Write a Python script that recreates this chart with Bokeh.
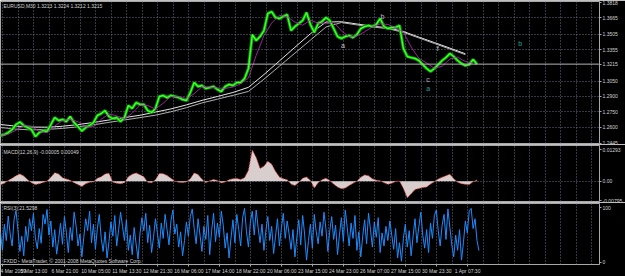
from bokeh.plotting import figure
from bokeh.layouts import column
from bokeh.models import Range1d, FixedTicker, Grid, Span, Label, ColumnDataSource
from bokeh.embed import file_html
from bokeh.resources import INLINE
from bokeh.core.properties import value

# ---------------- data ----------------
# time axis: hours from 4 Mar 2009 label position
time_tick_hours = [0, 32, 64, 96, 128, 160, 192, 224, 256, 288, 320, 352, 384, 416, 448, 480]
time_labels = ["4 Mar 2009", "5 Mar 13:00", "6 Mar 21:00", "10 Mar 05:00", "11 Mar 13:30",
               "12 Mar 21:30", "16 Mar 06:00", "17 Mar 14:00", "18 Mar 22:00", "20 Mar 06:00",
               "23 Mar 15:00", "24 Mar 23:00", "26 Mar 07:00", "27 Mar 15:00", "30 Mar 23:30",
               "1 Apr 07:30"]
grid_hours = [0, 16, 32, 48, 64, 80, 96, 112, 128, 144, 160, 176, 192, 208, 224, 240, 256,
              272, 288, 304, 320, 336, 352, 368, 384, 400, 416, 432, 448, 464, 480, 496,
              512, 528, 544, 560, 576, 592, 608]
X_START, X_END = -2.5, 616.0

# EURUSD M30 closes, one value every 4 hours
price = [
    1.2520, 1.2529, 1.2549, 1.2578, 1.2627, 1.2651, 1.2617, 1.2598, 1.2578, 1.2510,
    1.2549, 1.2568, 1.2559, 1.2627, 1.2695, 1.2666, 1.2676, 1.2656, 1.2705, 1.2646,
    1.2607, 1.2564, 1.2598, 1.2617, 1.2646, 1.2715, 1.2734, 1.2763, 1.2705, 1.2685,
    1.2695, 1.2656, 1.2695, 1.2812, 1.2783, 1.2841, 1.2822, 1.2822, 1.2763, 1.2744,
    1.2783, 1.2900, 1.2909, 1.2890, 1.2909, 1.2900, 1.2890, 1.2870, 1.2861, 1.2939,
    1.3036, 1.2997, 1.3007, 1.2978, 1.2987, 1.2997, 1.2968, 1.2948, 1.2997, 1.3017,
    1.3007, 1.3036, 1.3036, 1.3075, 1.3172, 1.3503, 1.3445, 1.3484, 1.3542, 1.3708,
    1.3727, 1.3669, 1.3659, 1.3679, 1.3698, 1.3542, 1.3581, 1.3611, 1.3640, 1.3718,
    1.3601, 1.3523, 1.3611, 1.3630, 1.3669, 1.3640, 1.3562, 1.3484, 1.3465, 1.3484,
    1.3494, 1.3474, 1.3503, 1.3562, 1.3581, 1.3591, 1.3581, 1.3601, 1.3659, 1.3581,
    1.3562, 1.3572, 1.3572, 1.3591, 1.3367, 1.3289, 1.3279, 1.3270, 1.3250, 1.3211,
    1.3172, 1.3143, 1.3172, 1.3211, 1.3250, 1.3279, 1.3318, 1.3289, 1.3250, 1.3221,
    1.3201, 1.3211, 1.3260, 1.3215]
PRICE_STEP = 4

# moving average (magenta), one value every 8 hours
ma = [
    1.2520, 1.2533, 1.2571, 1.2618, 1.2611, 1.2559, 1.2547, 1.2612, 1.2666, 1.2676,
    1.2654, 1.2604, 1.2606, 1.2678, 1.2729, 1.2712, 1.2683, 1.2737, 1.2815, 1.2812,
    1.2778, 1.2834, 1.2902, 1.2897, 1.2880, 1.2927, 1.2995, 1.2992, 1.2983, 1.2978,
    1.2992, 1.3024, 1.3080, 1.3299, 1.3494, 1.3615, 1.3691, 1.3676, 1.3625, 1.3594,
    1.3643, 1.3613, 1.3608, 1.3625, 1.3538, 1.3482, 1.3489, 1.3530, 1.3579, 1.3608,
    1.3601, 1.3572, 1.3526, 1.3382, 1.3272, 1.3226, 1.3175, 1.3194, 1.3265, 1.3284,
    1.3240, 1.3223]
MA_STEP = 8

# two long averages (white), one value every 16 hours
long_a = [
    1.2627, 1.2611, 1.2602, 1.2601, 1.2610, 1.2626, 1.2647, 1.2671, 1.2694, 1.2717,
    1.2748, 1.2779, 1.2818, 1.2862, 1.2900, 1.2939, 1.2989, 1.3113, 1.3246, 1.3379,
    1.3511, 1.3625, 1.3628, 1.3606, 1.3585, 1.3569, 1.3533, 1.3478, 1.3425, 1.3371,
    1.3316]
long_b = [
    1.2598, 1.2582, 1.2574, 1.2580, 1.2589, 1.2605, 1.2624, 1.2648, 1.2671, 1.2694,
    1.2718, 1.2751, 1.2791, 1.2837, 1.2874, 1.2911, 1.2949, 1.3068, 1.3195, 1.3322,
    1.3449, 1.3576, 1.3620, 1.3597, 1.3577, 1.3560, 1.3524, 1.3470, 1.3416, 1.3362,
    1.3307]
LONG_STEP = 16

# MACD(12,26,9) histogram, one value every 4 hours
macd = [
    -0.0015, -0.0008, 0.0003, 0.0012, 0.0022, 0.0030, 0.0021, 0.0006, -0.0006, -0.0014,
    -0.0010, -0.0005, 0.0000, 0.0016, 0.0035, 0.0030, 0.0014, 0.0009, 0.0004, -0.0006,
    -0.0014, -0.0022, -0.0010, -0.0004, -0.0003, 0.0012, 0.0018, 0.0030, 0.0033, -0.0004,
    -0.0008, -0.0010, -0.0006, 0.0018, 0.0029, 0.0034, 0.0027, 0.0018, -0.0004, -0.0006,
    0.0006, 0.0032, 0.0031, 0.0023, 0.0012, 0.0000, -0.0004, -0.0005, -0.0003, 0.0010,
    0.0034, 0.0028, 0.0008, -0.0006, 0.0002, 0.0007, 0.0003, -0.0007, -0.0003, 0.0006,
    0.0010, 0.0011, 0.0007, 0.0014, 0.0045, 0.0128, 0.0098, 0.0052, 0.0062, 0.0082,
    0.0070, 0.0040, 0.0017, 0.0010, 0.0006, -0.0012, -0.0018, -0.0004, 0.0012, 0.0017,
    0.0003, -0.0028, -0.0006, 0.0006, 0.0012, 0.0003, -0.0012, -0.0024, -0.0031, -0.0028,
    -0.0018, -0.0008, 0.0000, 0.0016, 0.0026, 0.0022, 0.0010, 0.0004, 0.0002, -0.0006,
    -0.0013, -0.0008, -0.0001, 0.0001, -0.0030, -0.0068, -0.0052, -0.0034, -0.0030, -0.0026,
    -0.0024, -0.0012, -0.0002, 0.0009, 0.0016, 0.0022, 0.0029, 0.0010, -0.0004, -0.0010,
    -0.0013, -0.0014, -0.0002, 0.0005]
MACD_STEP = 4

# RSI, one value every 2 hours
rsi = [
    55, 22, 70, 40, 85, 52, 30, 78, 95, 60, 20, 48, 12, 66, 38, 80, 58, 90, 45, 25, 62, 35, 88, 70, 97,
    50, 76, 28, 60, 15, 42, 72, 33, 84, 55, 18, 64, 40, 92, 68, 30, 52, 10, 46, 80, 58, 94, 36, 70, 24,
    62, 88, 44, 20, 56, 8, 38, 74, 48, 86, 30, 60, 92, 66, 40, 78, 22, 50, 14, 64, 34, 6, 52, 82, 58,
    90, 36, 68, 18, 46, 80, 54, 26, 72, 44, 88, 60, 32, 76, 96, 52, 70, 28, 56, 12, 40, 74, 48, 84, 98,
    62, 34, 80, 50, 20, 66, 42, 86, 14, 58, 90, 38, 72, 46, 94, 68, 26, 54, 8, 44, 78, 36, 88, 60, 30,
    82, 99, 56, 28, 74, 94, 50, 96, 64, 36, 70, 22, 58, 84, 40, 66, 16, 48, 80, 30, 62, 90, 44, 76, 52,
    24, 60, 10, 46, 78, 32, 86, 52, 4, 40, 70, 26, 88, 56, 34, 74, 48, 92, 62, 20, 58, 84, 42, 68, 14,
    50, 82, 38, 96, 64, 30, 72, 44, 86, 22, 56, 10, 48, 78, 34, 90, 60, 28, 74, 46, 82, 18, 54, 30, 66,
    40, 76, 50, 24, 62, 8, 36, 2, 44, 70, 28, 58, 12, 48, 80, 36, 66, 92, 50, 26, 60, 18, 72, 44, 86,
    96, 58, 30, 68, 88, 42, 98, 64, 32, 10, 50, 22, 60, 4, 36, 76, 54, 94, 99, 62, 80, 40, 21.5]
RSI_STEP = 2

# price scale ticks
price_ticks = [1.3818, 1.3665, 1.3505, 1.3355, 1.3215, 1.3050, 1.2900, 1.2750, 1.2600, 1.2445]
price_tick_labels = ["1.3818", "1.3665", "1.3505", "1.3355", "1.3215", "1.3050", "1.2900",
                     "1.2750", "1.2600", "1.2445"]
price_grid = [1.3665, 1.3505, 1.3355, 1.3050, 1.2900, 1.2750, 1.2600]
current_price = 1.3215
macd_ticks = [0.01293, 0.0, -0.00795]
macd_tick_labels = ["0.01293", "0.00", "-0.00795"]
rsi_ticks = [100, 0]
rsi_tick_labels = ["100", "0"]

# wave labels drawn on the price chart
wave_text = ["a", "b", "f", "c", "a", "b"]
wave_hour = [351, 392, 449, 439, 439, 534]
wave_price = [1.3396, 1.3679, 1.3367, 1.3065, 1.2977, 1.3419]
wave_color = ["#c8c8c8", "#d8a8d0", "#d0d0d0", "#c8a8d8", "#1fa0a0", "#1fa0a0"]

# ---------------- drawing ----------------
FONT = "Liberation Sans"
GRID_C = "#66727f"
FRAME_C = "#a8a8a8"
TXT_C = "#d4d4d4"
FS = "5px"

xr = Range1d(X_START, X_END)


def xs(n, step):
    return [X_START + step * i for i in range(n)]


def panel(height, y0, y1, top, bottom, yticks, ylabels, ygrid, xaxis=False):
    p = figure(width=625, height=height, x_range=xr, y_range=Range1d(y0, y1),
               output_backend="svg", toolbar_location=None,
               x_axis_location="below" if xaxis else None, y_axis_location="right",
               min_border_left=0, min_border_right=22, min_border_top=top,
               min_border_bottom=bottom, background_fill_color="black",
               border_fill_color="black", outline_line_color=FRAME_C, outline_line_width=1)
    p.grid.grid_line_color = None
    p.add_layout(Grid(dimension=0, ticker=FixedTicker(ticks=grid_hours),
                      grid_line_color=GRID_C, grid_line_dash="1 2", grid_line_width=1))
    if ygrid:
        p.add_layout(Grid(dimension=1, ticker=FixedTicker(ticks=ygrid),
                          grid_line_color=GRID_C, grid_line_dash="1 2", grid_line_width=1))
    ax = p.yaxis[0]
    ax.ticker = FixedTicker(ticks=yticks)
    ax.major_label_overrides = dict(zip(yticks, ylabels))
    ax.axis_line_color = None
    ax.major_tick_line_color = FRAME_C
    ax.major_tick_out = 2
    ax.major_tick_in = 0
    ax.minor_tick_out = 0
    ax.minor_tick_in = 0
    ax.major_label_standoff = 1
    ax.major_label_text_color = TXT_C
    ax.major_label_text_font = FONT
    ax.major_label_text_font_size = FS
    return p


# ---- price panel ----
p1 = panel(144, 1.2442, 1.3825, 1, 1, price_ticks, price_tick_labels, price_grid)
p1.add_layout(Span(location=current_price, dimension="width", line_color="#b4b4b4", line_width=1))
p1.line(xs(len(long_a), LONG_STEP), long_a, line_color="#e6e6e6", line_width=1)
p1.line(xs(len(long_b), LONG_STEP), long_b, line_color="#b0b0b0", line_width=1)
px = xs(len(price), PRICE_STEP)
p1.line(px, price, line_color="#009a00", line_width=3.2)
p1.line(px, price, line_color="#44ff2a", line_width=1.4)
p1.line(xs(len(ma), MA_STEP), ma, line_color="#b02cb0", line_width=1, line_alpha=0.85)
wsrc = ColumnDataSource(dict(x=wave_hour, y=wave_price, t=wave_text, c=wave_color))
p1.text(x="x", y="y", text="t", text_color="c", source=wsrc, text_font=value(FONT),
        text_font_size="7px", text_align="center", text_baseline="middle")
p1.add_layout(Label(x=0.5, y=1.3812, text="EURUSD,M30  1.3213 1.3224 1.3212 1.3215",
                    text_color=TXT_C, text_font=FONT, text_font_size=FS, text_baseline="top"))
p1.add_layout(Label(x=X_END, y=current_price, x_offset=1, text="1.3215", text_color="black",
                    background_fill_color="white", text_font=FONT, text_font_size=FS,
                    text_baseline="middle", text_align="left"))

# ---- MACD panel ----
p2 = panel(58, -0.00836, 0.0147, 1, 1, macd_ticks, macd_tick_labels, [0.0])
mx = xs(len(macd), MACD_STEP)
p2.varea(x=mx, y1=[0.0] * len(macd), y2=macd, fill_color="#d8cece")
p2.line(mx, macd, line_color="#ff3a3a", line_width=1, line_dash="1 1")
p2.add_layout(Label(x=0.5, y=0.0134, text="MACD(12,26,9) -0.00005 0.00049",
                    text_color=TXT_C, text_font=FONT, text_font_size=FS, text_baseline="top"))

# ---- RSI panel ----
p3 = panel(74, -4, 108, 1, 10, rsi_ticks, rsi_tick_labels, None, xaxis=True)
p3.line(xs(len(rsi), RSI_STEP), rsi, line_color="#1e8cff", line_width=1)
p3.add_layout(Label(x=0.5, y=105, text="RSI(3) 21.5298", text_color=TXT_C, text_font=FONT,
                    text_font_size=FS, text_baseline="top"))
p3.add_layout(Label(x=0.5, y=2, text="FXDD - MetaTrader, \u00a9 2001-2008 MetaQuotes Software Corp.",
                    text_color=TXT_C, text_font=FONT, text_font_size=FS, text_baseline="middle"))
xa = p3.xaxis[0]
xa.ticker = FixedTicker(ticks=time_tick_hours)
xa.major_label_overrides = dict(zip(time_tick_hours, time_labels))
xa.axis_line_color = None
xa.major_tick_line_color = FRAME_C
xa.major_tick_out = 2
xa.major_tick_in = 0
xa.minor_tick_out = 0
xa.minor_tick_in = 0
xa.major_label_standoff = 1
xa.major_label_text_align = "left"
xa.major_label_text_color = TXT_C
xa.major_label_text_font = FONT
xa.major_label_text_font_size = FS

layout = column(p1, p2, p3, spacing=0)
open("out.html", "w").write(file_html(layout, INLINE, title="EURUSD,M30"))
